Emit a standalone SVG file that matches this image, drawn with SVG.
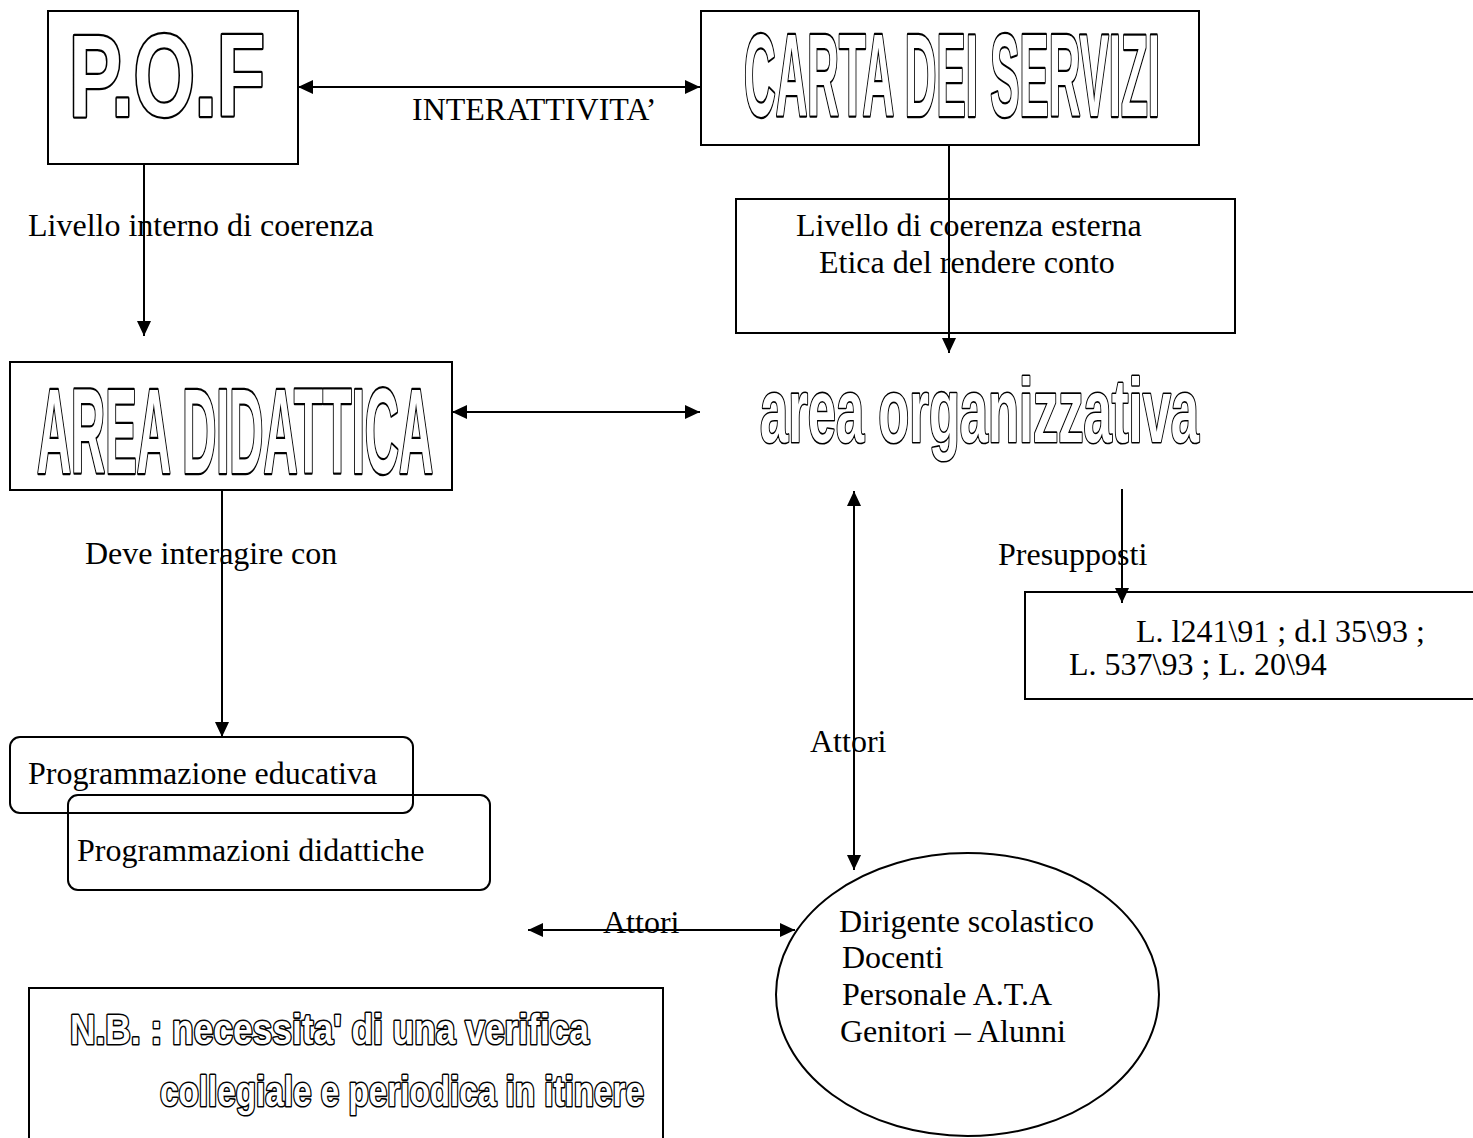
<svg xmlns="http://www.w3.org/2000/svg" width="1473" height="1138" viewBox="0 0 1473 1138">
<style>
.box{fill:none;stroke:#000;stroke-width:2}
.t{font-family:"Liberation Serif","Times New Roman",serif;font-size:32px;fill:#000}
.o{font-family:"Liberation Sans",Arial,sans-serif;font-weight:bold;fill:#fff;stroke:#000;paint-order:stroke fill;stroke-linejoin:round}
.big{stroke-width:4.5}
.mid{stroke-width:3.2}
.c{fill:none;stroke:#000;stroke-width:2}
</style>
<defs>
<marker id="ah" markerUnits="userSpaceOnUse" markerWidth="16" markerHeight="14" refX="15" refY="7" orient="auto-start-reverse">
<path d="M0,0 L15,7 L0,14 z" fill="#000"/>
</marker>
</defs>
<rect width="1473" height="1138" fill="#fff"/>
<g id="pof">
<rect class="box" x="48" y="11" width="250" height="153"/>
<text class="o big" x="69" y="116" font-size="116" textLength="196" lengthAdjust="spacingAndGlyphs">P.O.F</text>
</g>
<g id="carta">
<rect class="box" x="701" y="11" width="498" height="134"/>
<text class="o big" x="744" y="116" font-size="116" textLength="416" lengthAdjust="spacingAndGlyphs">CARTA DEI SERVIZI</text>
</g>
<g id="coerenza-esterna">
<rect class="box" x="736" y="199" width="499" height="134"/>
<text class="t" x="796" y="236">Livello di coerenza esterna</text>
<text class="t" x="819" y="273">Etica del rendere conto</text>
</g>
<g id="area-didattica">
<rect class="box" x="10" y="362" width="442" height="128"/>
<text class="o big" x="37" y="473" font-size="121" textLength="396" lengthAdjust="spacingAndGlyphs">AREA DIDATTICA</text>
</g>
<g id="area-organizzativa">
<text class="o mid" x="760" y="442" font-size="91" textLength="439" lengthAdjust="spacingAndGlyphs">area organizzativa</text>
</g>
<g id="leggi">
<rect class="box" x="1025" y="592" width="460" height="107"/>
<text class="t" x="1136" y="642">L. l241\91 ; d.l 35\93 ;</text>
<text class="t" x="1069" y="675">L. 537\93 ; L. 20\94</text>
</g>
<g id="prog-educativa">
<rect class="box" x="10" y="737" width="403" height="76" rx="10"/>
<text class="t" x="28" y="784">Programmazione educativa</text>
</g>
<g id="prog-didattiche">
<rect class="box" x="68" y="795" width="422" height="95" rx="10"/>
<text class="t" x="77" y="861">Programmazioni didattiche</text>
</g>
<g id="attori">
<ellipse class="box" cx="967.5" cy="994.5" rx="191.5" ry="141.5"/>
<text class="t" x="839" y="932">Dirigente scolastico</text>
<text class="t" x="842" y="968">Docenti</text>
<text class="t" x="842" y="1005">Personale A.T.A</text>
<text class="t" x="840" y="1042">Genitori – Alunni</text>
</g>
<g id="nb">
<rect class="box" x="29" y="988" width="634" height="170"/>
<text class="o mid" x="70" y="1044" font-size="43" textLength="519" lengthAdjust="spacingAndGlyphs">N.B. : necessita' di una verifica</text>
<text class="o mid" x="160" y="1106" font-size="43" textLength="484" lengthAdjust="spacingAndGlyphs">collegiale e periodica in itinere</text>
</g>
<g id="connectors">
<line class="c" x1="298" y1="87" x2="700" y2="87" marker-start="url(#ah)" marker-end="url(#ah)"/>
<line class="c" x1="144" y1="164" x2="144" y2="336" marker-end="url(#ah)"/>
<line class="c" x1="949" y1="145" x2="949" y2="353" marker-end="url(#ah)"/>
<line class="c" x1="452" y1="412" x2="700" y2="412" marker-start="url(#ah)" marker-end="url(#ah)"/>
<line class="c" x1="222" y1="490" x2="222" y2="737" marker-end="url(#ah)"/>
<line class="c" x1="1122" y1="489" x2="1122" y2="603" marker-end="url(#ah)"/>
<line class="c" x1="854" y1="491" x2="854" y2="870" marker-start="url(#ah)" marker-end="url(#ah)"/>
<line class="c" x1="528" y1="930" x2="795" y2="930" marker-start="url(#ah)" marker-end="url(#ah)"/>
</g>
<g id="labels">
<text class="t" x="412" y="120">INTERATTIVITA’</text>
<text class="t" x="28" y="236">Livello interno di coerenza</text>
<text class="t" x="85" y="564">Deve interagire con</text>
<text class="t" x="998" y="565">Presupposti</text>
<text class="t" x="810" y="752">Attori</text>
<text class="t" x="603" y="933">Attori</text>
</g>
</svg>
